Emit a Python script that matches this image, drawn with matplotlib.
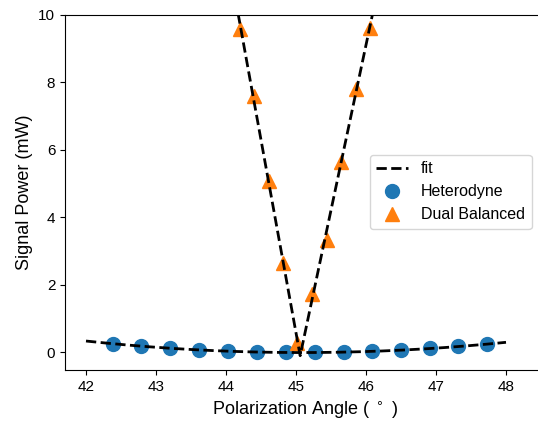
import numpy as np
import matplotlib
matplotlib.use("Agg")
import matplotlib.pyplot as plt

plt.rcParams['font.family'] = ['Liberation Sans', 'DejaVu Sans']

# Heterodyne measurements
het_angle = [42.38, 42.79, 43.20, 43.62, 44.03, 44.44, 44.85,
             45.27, 45.68, 46.09, 46.50, 46.91, 47.32, 47.73]
het_power = [0.26, 0.19, 0.12, 0.08, 0.03, 0.01, 0.00,
             0.00, 0.01, 0.03, 0.07, 0.12, 0.18, 0.24]

# Dual balanced measurements
dual_angle = [44.20, 44.40, 44.61, 44.82, 45.02,
              45.23, 45.44, 45.64, 45.85, 46.06]
dual_power = [9.59, 7.59, 5.09, 2.66, 0.28,
              1.72, 3.34, 5.64, 7.81, 9.62]

xticks = [42, 43, 44, 45, 46, 47, 48]
yticks = [0, 2, 4, 6, 8, 10]

# Quadratic fit for heterodyne
het_coef = np.polyfit(het_angle, het_power, 2)
het_x = np.linspace(42, 48, 200)
het_fit = np.polyval(het_coef, het_x)

# V-shaped fit for dual balanced: one line per side, joined at the crossing
left = np.polyfit(dual_angle[:5], dual_power[:5], 1)
right = np.polyfit(dual_angle[5:], dual_power[5:], 1)
x_cross = (right[1] - left[1]) / (left[0] - right[0])
dual_x = np.array([44.0, x_cross, 46.1])
dual_fit = np.where(dual_x <= x_cross, np.polyval(left, dual_x), np.polyval(right, dual_x))

fig = plt.figure(figsize=(5.38, 4.21), dpi=100)
ax = fig.add_axes([65 / 538, (421 - 370) / 421, (544.5 - 65) / 538, (370 - 15) / 421])

ax.plot(het_x, het_fit, 'k--', lw=2, label='fit', zorder=3)
ax.plot(dual_x, dual_fit, 'k--', lw=2, zorder=3)
ax.plot(het_angle, het_power, 'o', color='#1f77b4', ms=10, ls='none', label='Heterodyne', zorder=2)
ax.plot(dual_angle, dual_power, '^', color='#ff7f0e', ms=10.5, ls='none', label='Dual Balanced', zorder=2)

ax.set_xlim(41.7, 48.55)
ax.set_ylim(-0.52, 10)
ax.set_xticks(xticks)
ax.set_yticks(yticks)
ax.tick_params(labelsize=11)
ax.set_xlabel('Polarization Angle ( $^\\circ$ )', fontsize=13)
ax.set_ylabel('Signal Power (mW)', fontsize=13)

ax.legend(loc='upper left', bbox_to_anchor=(370 / 538, 1 - 155 / 421),
          bbox_transform=fig.transFigure, borderaxespad=0, fontsize=11.5)

fig.savefig('out.png', dpi=100)
